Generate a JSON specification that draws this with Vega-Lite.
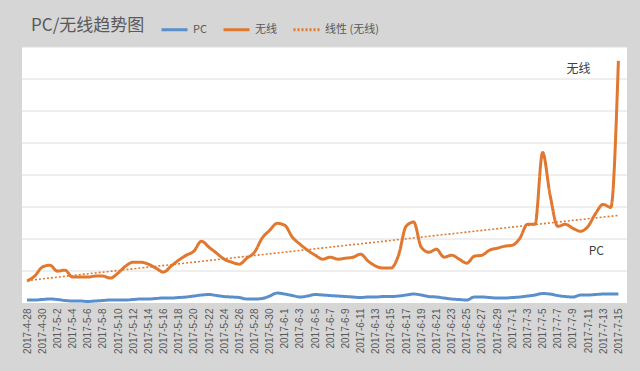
{
  "$schema": "https://vega.github.io/schema/vega-lite/v6.json",
  "width": 605,
  "height": 256,
  "autosize": "none",
  "padding": {"left": 22, "top": 47, "right": 13, "bottom": 68},
  "background": "#d6d6d6",
  "title": {"text": "PC/无线趋势图", "anchor": "start", "dx": 10, "dy": 29, "offset": 9, "fontSize": 17, "font": "Noto Sans CJK SC", "fontWeight": "normal", "color": "#595959"},
  "config": {
    "view": {"fill": "white", "stroke": null},
    "axisY": {"title": null, "labels": false, "ticks": false, "domain": false, "grid": false},
    "legend": {"orient": "none", "legendX": 138, "legendY": -32, "direction": "horizontal", "symbolType": "stroke", "symbolSize": 676, "labelFontSize": 11, "labelColor": "#595959", "columnPadding": 10, "labelOffset": 4, "labelFont": "Noto Sans CJK SC", "symbolStrokeWidth": 3}
  },
  "datasets": {
    "gridlines": [{"level": 1000}, {"level": 2000}, {"level": 3000}, {"level": 4000}, {"level": 5000}, {"level": 6000}, {"level": 7000}, {"level": 8000}]
  },
  "data": {
    "format": {"parse": {"date": "date"}},
    "values": [
      {"date": "2017-04-28", "PC": 93, "无线": 685},
      {"date": "2017-04-29", "PC": 93, "无线": 840},
      {"date": "2017-04-30", "PC": 109, "无线": 1121},
      {"date": "2017-05-01", "PC": 125, "无线": 1183},
      {"date": "2017-05-02", "PC": 109, "无线": 996},
      {"date": "2017-05-03", "PC": 78, "无线": 1027},
      {"date": "2017-05-04", "PC": 62, "无线": 809},
      {"date": "2017-05-05", "PC": 62, "无线": 809},
      {"date": "2017-05-06", "PC": 47, "无线": 809},
      {"date": "2017-05-07", "PC": 62, "无线": 840},
      {"date": "2017-05-08", "PC": 78, "无线": 840},
      {"date": "2017-05-09", "PC": 93, "无线": 778},
      {"date": "2017-05-10", "PC": 93, "无线": 934},
      {"date": "2017-05-11", "PC": 93, "无线": 1152},
      {"date": "2017-05-12", "PC": 109, "无线": 1276},
      {"date": "2017-05-13", "PC": 125, "无线": 1276},
      {"date": "2017-05-14", "PC": 125, "无线": 1214},
      {"date": "2017-05-15", "PC": 140, "无线": 1090},
      {"date": "2017-05-16", "PC": 156, "无线": 965},
      {"date": "2017-05-17", "PC": 156, "无线": 1152},
      {"date": "2017-05-18", "PC": 171, "无线": 1339},
      {"date": "2017-05-19", "PC": 187, "无线": 1494},
      {"date": "2017-05-20", "PC": 218, "无线": 1619},
      {"date": "2017-05-21", "PC": 249, "无线": 1930},
      {"date": "2017-05-22", "PC": 265, "无线": 1743},
      {"date": "2017-05-23", "PC": 233, "无线": 1557},
      {"date": "2017-05-24", "PC": 202, "无线": 1370},
      {"date": "2017-05-25", "PC": 187, "无线": 1276},
      {"date": "2017-05-26", "PC": 171, "无线": 1214},
      {"date": "2017-05-27", "PC": 125, "无线": 1401},
      {"date": "2017-05-28", "PC": 125, "无线": 1588},
      {"date": "2017-05-29", "PC": 140, "无线": 2023},
      {"date": "2017-05-30", "PC": 218, "无线": 2272},
      {"date": "2017-05-31", "PC": 311, "无线": 2490},
      {"date": "2017-06-01", "PC": 280, "无线": 2428},
      {"date": "2017-06-02", "PC": 233, "无线": 2055},
      {"date": "2017-06-03", "PC": 187, "无线": 1837},
      {"date": "2017-06-04", "PC": 218, "无线": 1650},
      {"date": "2017-06-05", "PC": 265, "无线": 1494},
      {"date": "2017-06-06", "PC": 249, "无线": 1370},
      {"date": "2017-06-07", "PC": 233, "无线": 1432},
      {"date": "2017-06-08", "PC": 218, "无线": 1370},
      {"date": "2017-06-09", "PC": 202, "无线": 1401},
      {"date": "2017-06-10", "PC": 187, "无线": 1432},
      {"date": "2017-06-11", "PC": 171, "无线": 1525},
      {"date": "2017-06-12", "PC": 187, "无线": 1307},
      {"date": "2017-06-13", "PC": 187, "无线": 1152},
      {"date": "2017-06-14", "PC": 202, "无线": 1090},
      {"date": "2017-06-15", "PC": 202, "无线": 1090},
      {"date": "2017-06-16", "PC": 218, "无线": 1494},
      {"date": "2017-06-17", "PC": 249, "无线": 2400},
      {"date": "2017-06-18", "PC": 280, "无线": 2530},
      {"date": "2017-06-19", "PC": 249, "无线": 1743},
      {"date": "2017-06-20", "PC": 202, "无线": 1588},
      {"date": "2017-06-21", "PC": 187, "无线": 1681},
      {"date": "2017-06-22", "PC": 156, "无线": 1432},
      {"date": "2017-06-23", "PC": 125, "无线": 1494},
      {"date": "2017-06-24", "PC": 109, "无线": 1370},
      {"date": "2017-06-25", "PC": 93, "无线": 1245},
      {"date": "2017-06-26", "PC": 187, "无线": 1463},
      {"date": "2017-06-27", "PC": 187, "无线": 1494},
      {"date": "2017-06-28", "PC": 171, "无线": 1650},
      {"date": "2017-06-29", "PC": 156, "无线": 1712},
      {"date": "2017-06-30", "PC": 156, "无线": 1774},
      {"date": "2017-07-01", "PC": 171, "无线": 1805},
      {"date": "2017-07-02", "PC": 187, "无线": 2023},
      {"date": "2017-07-03", "PC": 218, "无线": 2459},
      {"date": "2017-07-04", "PC": 249, "无线": 2459},
      {"date": "2017-07-05", "PC": 296, "无线": 4701},
      {"date": "2017-07-06", "PC": 280, "无线": 3362},
      {"date": "2017-07-07", "PC": 233, "无线": 2397},
      {"date": "2017-07-08", "PC": 202, "无线": 2459},
      {"date": "2017-07-09", "PC": 187, "无线": 2335},
      {"date": "2017-07-10", "PC": 249, "无线": 2241},
      {"date": "2017-07-11", "PC": 249, "无线": 2397},
      {"date": "2017-07-12", "PC": 265, "无线": 2802},
      {"date": "2017-07-13", "PC": 280, "无线": 3082},
      {"date": "2017-07-14", "PC": 280, "无线": 2988},
      {"date": "2017-07-15", "PC": 280, "无线": 7565}
    ]
  },
  "layer": [
    {
      "data": {"name": "gridlines"},
      "mark": {"type": "rule", "color": "#dedede", "strokeWidth": 1},
      "encoding": {
        "y": {"field": "level", "type": "quantitative"}
      }
    },
    {
      "transform": [{"fold": ["PC", "无线"], "as": ["series", "value"]}],
      "mark": {"type": "line", "interpolate": "monotone", "strokeWidth": 3},
      "encoding": {
        "x": {
          "field": "date", "type": "ordinal", "timeUnit": "utcyearmonthdate",
          "scale": {"type": "point", "padding": 0.9, "align": 0.37},
          "axis": {
            "title": null, "format": "%Y-%-m-%-d", "labelAngle": -90, "labelFontSize": 10, "labelColor": "#595959", "labelFont": "Liberation Sans",
            "ticks": false, "domain": false, "grid": false, "labelPadding": 5, "labelOverlap": false,
            "values": [
              {"year": 2017, "month": 4, "date": 28, "utc": true},
              {"year": 2017, "month": 4, "date": 30, "utc": true},
              {"year": 2017, "month": 5, "date": 2, "utc": true},
              {"year": 2017, "month": 5, "date": 4, "utc": true},
              {"year": 2017, "month": 5, "date": 6, "utc": true},
              {"year": 2017, "month": 5, "date": 8, "utc": true},
              {"year": 2017, "month": 5, "date": 10, "utc": true},
              {"year": 2017, "month": 5, "date": 12, "utc": true},
              {"year": 2017, "month": 5, "date": 14, "utc": true},
              {"year": 2017, "month": 5, "date": 16, "utc": true},
              {"year": 2017, "month": 5, "date": 18, "utc": true},
              {"year": 2017, "month": 5, "date": 20, "utc": true},
              {"year": 2017, "month": 5, "date": 22, "utc": true},
              {"year": 2017, "month": 5, "date": 24, "utc": true},
              {"year": 2017, "month": 5, "date": 26, "utc": true},
              {"year": 2017, "month": 5, "date": 28, "utc": true},
              {"year": 2017, "month": 5, "date": 30, "utc": true},
              {"year": 2017, "month": 6, "date": 1, "utc": true},
              {"year": 2017, "month": 6, "date": 3, "utc": true},
              {"year": 2017, "month": 6, "date": 5, "utc": true},
              {"year": 2017, "month": 6, "date": 7, "utc": true},
              {"year": 2017, "month": 6, "date": 9, "utc": true},
              {"year": 2017, "month": 6, "date": 11, "utc": true},
              {"year": 2017, "month": 6, "date": 13, "utc": true},
              {"year": 2017, "month": 6, "date": 15, "utc": true},
              {"year": 2017, "month": 6, "date": 17, "utc": true},
              {"year": 2017, "month": 6, "date": 19, "utc": true},
              {"year": 2017, "month": 6, "date": 21, "utc": true},
              {"year": 2017, "month": 6, "date": 23, "utc": true},
              {"year": 2017, "month": 6, "date": 25, "utc": true},
              {"year": 2017, "month": 6, "date": 27, "utc": true},
              {"year": 2017, "month": 6, "date": 29, "utc": true},
              {"year": 2017, "month": 7, "date": 1, "utc": true},
              {"year": 2017, "month": 7, "date": 3, "utc": true},
              {"year": 2017, "month": 7, "date": 5, "utc": true},
              {"year": 2017, "month": 7, "date": 7, "utc": true},
              {"year": 2017, "month": 7, "date": 9, "utc": true},
              {"year": 2017, "month": 7, "date": 11, "utc": true},
              {"year": 2017, "month": 7, "date": 13, "utc": true},
              {"year": 2017, "month": 7, "date": 15, "utc": true}
            ]
          }
        },
        "y": {
          "field": "value", "type": "quantitative",
          "scale": {"domain": [0, 8000], "nice": false}
        },
        "color": {
          "field": "series", "type": "nominal",
          "scale": {"domain": ["PC", "无线", "线性 (无线)"], "range": ["#5b8fcc", "#e0782f", "#e0782f"]},
          "legend": {"title": null}
        },
        "strokeDash": {
          "field": "series", "type": "nominal",
          "scale": {"domain": ["PC", "无线", "线性 (无线)"], "range": [[1, 0], [1, 0], [2, 2]]},
          "legend": {"title": null}
        }
      }
    },
    {
      "transform": [{"regression": "无线", "on": "date"}],
      "mark": {"type": "line", "strokeWidth": 1.6},
      "encoding": {
        "x": {"field": "date", "type": "ordinal", "timeUnit": "utcyearmonthdate"},
        "y": {"field": "无线", "type": "quantitative"},
        "color": {"datum": "线性 (无线)"},
        "strokeDash": {"datum": "线性 (无线)"}
      }
    },
    {
      "transform": [{"filter": "time(datum.date) === utc(2017, 6, 15)"}],
      "mark": {"type": "text", "dx": -40, "dy": 8, "fontSize": 12, "font": "Noto Sans CJK SC", "color": "#404040"},
      "encoding": {
        "x": {"field": "date", "type": "ordinal", "timeUnit": "utcyearmonthdate"},
        "y": {"field": "无线", "type": "quantitative"},
        "text": {"value": "无线"}
      }
    },
    {
      "transform": [{"filter": "time(datum.date) === utc(2017, 6, 15)"}],
      "mark": {"type": "text", "dx": -22, "dy": -43, "fontSize": 12, "font": "Noto Sans CJK SC", "color": "#404040"},
      "encoding": {
        "x": {"field": "date", "type": "ordinal", "timeUnit": "utcyearmonthdate"},
        "y": {"field": "PC", "type": "quantitative"},
        "text": {"value": "PC"}
      }
    }
  ]
}
